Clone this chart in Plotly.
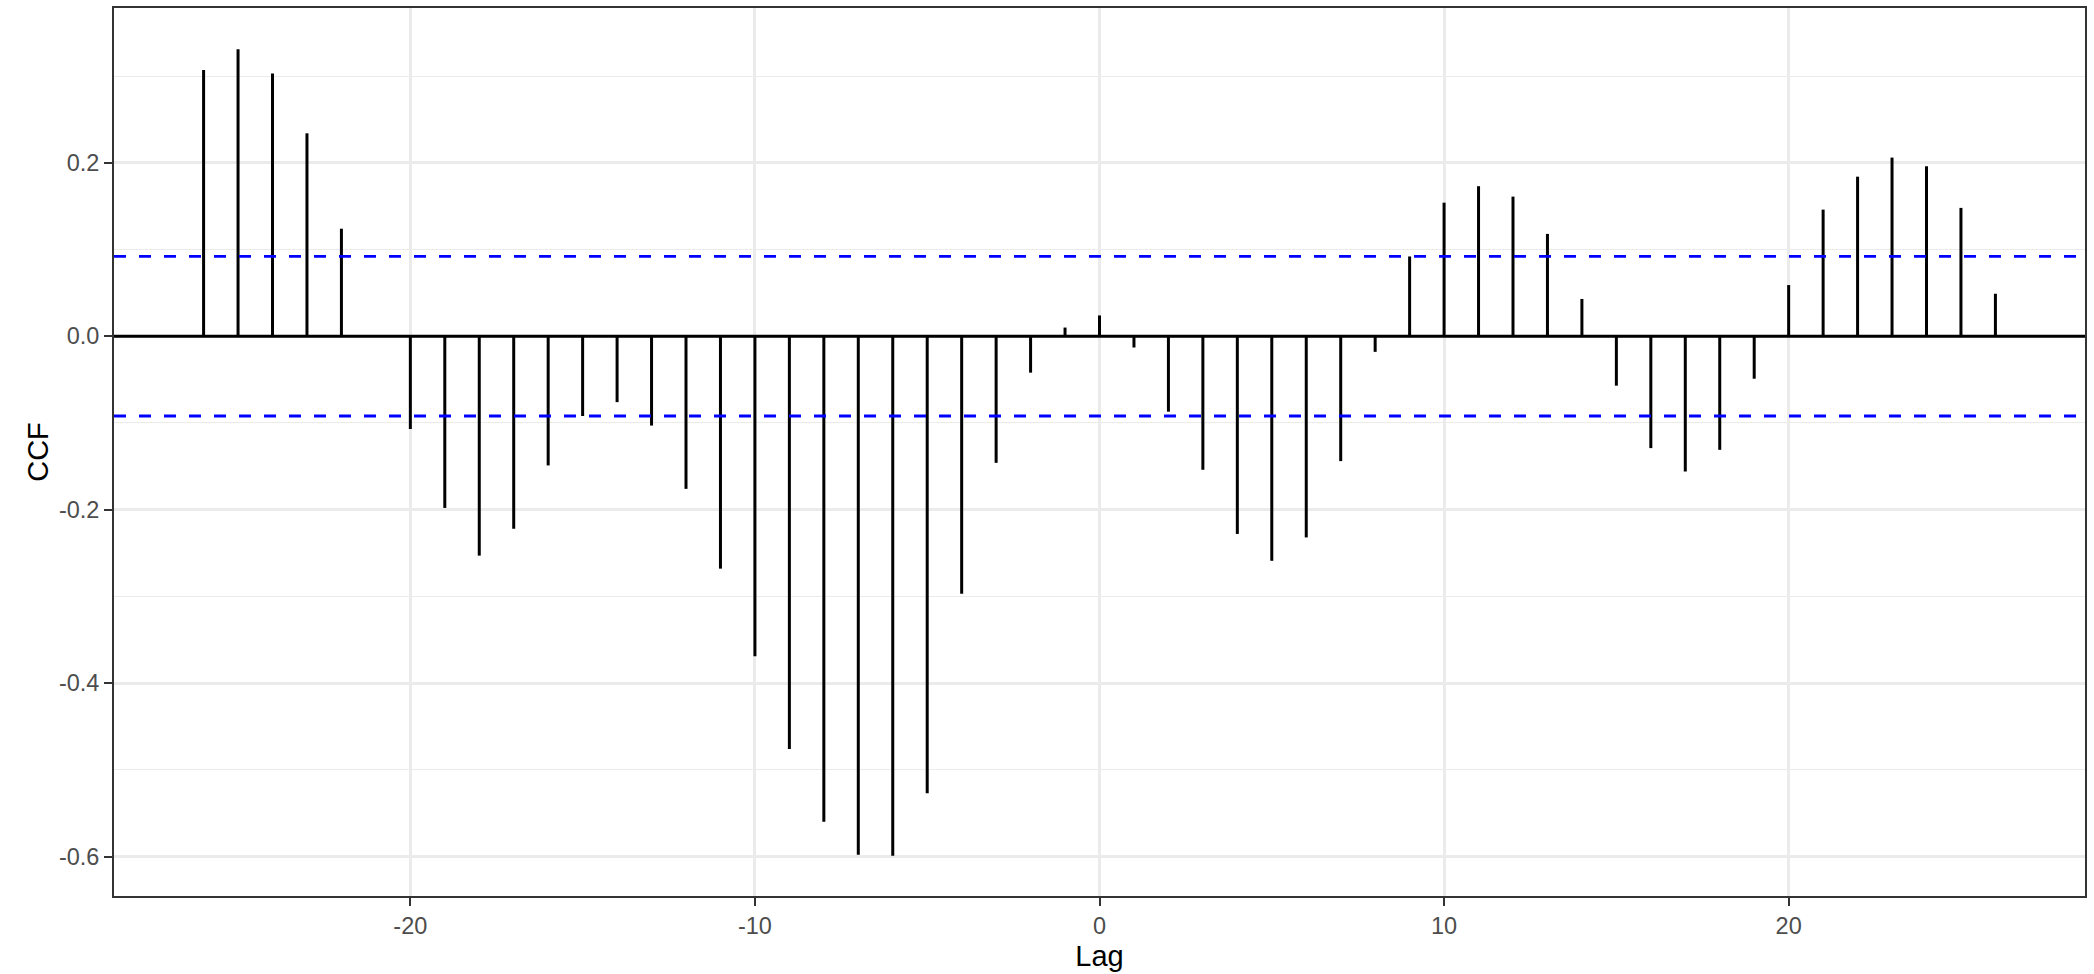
import plotly.graph_objects as go

# Cross-correlation estimates by lag
lags = list(range(-26, 27))
ccf = [
    0.307, 0.331, 0.303, 0.234, 0.124, 0.001,
    -0.107, -0.198, -0.253, -0.222, -0.149, -0.092, -0.076, -0.103, -0.176, -0.268,
    -0.369, -0.476, -0.560, -0.598, -0.599, -0.527, -0.297, -0.146, -0.042, 0.010,
    0.024,
    -0.013, -0.087, -0.154, -0.228, -0.259, -0.232, -0.144, -0.018, 0.092, 0.154,
    0.173, 0.161, 0.118, 0.043, -0.057, -0.129, -0.156, -0.131, -0.049, 0.059,
    0.146, 0.184, 0.206, 0.196, 0.148, 0.049,
]
conf_limit = 0.092

x_ticks = [-20, -10, 0, 10, 20]
x_tick_labels = ["-20", "-10", "0", "10", "20"]
y_ticks = [-0.6, -0.4, -0.2, 0.0, 0.2]
y_tick_labels = ["-0.6", "-0.4", "-0.2", "0.0", "0.2"]
y_minor = [-0.5, -0.3, -0.1, 0.1, 0.3]

# vertical segments from zero to each estimate
seg_x, seg_y = [], []
for lag, v in zip(lags, ccf):
    seg_x += [lag, lag, None]
    seg_y += [0, v, None]

fig = go.Figure()
fig.add_trace(go.Scatter(
    x=seg_x, y=seg_y, mode="lines",
    line=dict(color="black", width=3),
    hoverinfo="skip", showlegend=False,
))

fig.add_hline(y=0, line=dict(color="black", width=2.8), layer="above")
for lim in (conf_limit, -conf_limit):
    fig.add_hline(y=lim, line=dict(color="blue", width=2.8, dash="12px,13px"), layer="above")

font_family = "Liberation Sans, Arial, sans-serif"
axis_common = dict(
    showline=True, mirror=True, linecolor="#333333", linewidth=1.8,
    ticks="outside", ticklen=8, tickwidth=2, tickcolor="#333333",
    tickfont=dict(family=font_family, size=23.5, color="#4D4D4D"),
    showgrid=True, gridcolor="#EBEBEB", gridwidth=2.5,
    zeroline=False,
)

fig.update_xaxes(
    **axis_common,
    range=[-28.6, 28.6],
    tickmode="array", tickvals=x_ticks, ticktext=x_tick_labels,
    title=dict(text="Lag", font=dict(family=font_family, size=29, color="black"), standoff=8),
)
fig.update_yaxes(
    **axis_common,
    range=[-0.6455, 0.3785],
    tickmode="array", tickvals=y_ticks, ticktext=y_tick_labels,
    minor=dict(tickmode="array", tickvals=y_minor, showgrid=True,
               gridcolor="#EBEBEB", gridwidth=1.4, ticklen=0),
    title=dict(text="CCF", font=dict(family=font_family, size=29, color="black"), standoff=2),
)

fig.update_layout(
    width=2094, height=974, autosize=False,
    margin=dict(l=114, r=9, t=6, b=78),
    paper_bgcolor="white", plot_bgcolor="white",
    showlegend=False,
)

fig.write_html("out.html")
